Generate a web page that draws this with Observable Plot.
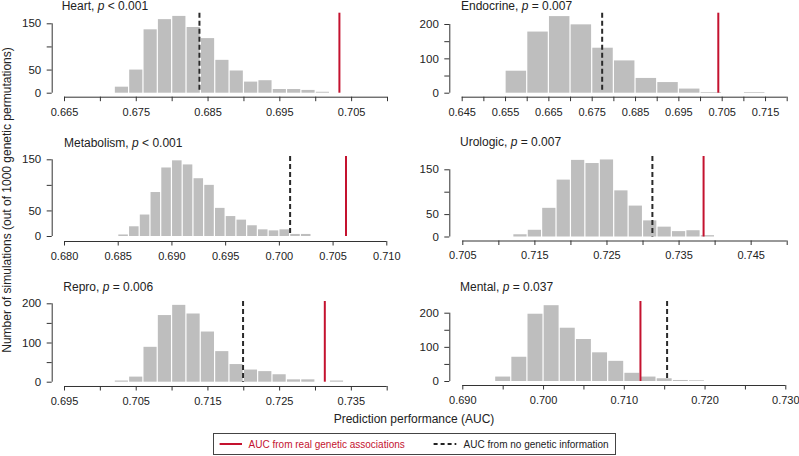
<!DOCTYPE html>
<html>
<head>
<meta charset="utf-8">
<script src="https://cdn.jsdelivr.net/npm/d3@7"></script>
<script src="https://cdn.jsdelivr.net/npm/@observablehq/plot@0.6"></script>
<style>
  body { margin: 0; background: #fff; }
  #chart { position: relative; width: 799px; height: 456px; overflow: hidden;
           font-family: "Liberation Sans", Arial, Helvetica, sans-serif; color: #222; background: #fff; }
  .panel { position: absolute; }
  .title { position: absolute; font-size: 12px; line-height: 12px; white-space: nowrap; color: #222; }
  .ytitle { position: absolute; font-size: 12px; line-height: 14px; width: 400px; text-align: center;
            transform: rotate(-90deg); white-space: nowrap; }
  .xtitle { position: absolute; font-size: 12px; line-height: 12px; width: 400px; text-align: center; white-space: nowrap; }
</style>
</head>
<body>
<div id="chart"></div>
<script>
// ---------------- data ----------------
const panelNames = ["Heart", "Endocrine", "Metabolism", "Urologic", "Repro", "Mental"];
const pSigns = ["<", "=", "<", "=", "=", "="];
const pValues = ["0.001", "0.007", "0.001", "0.007", "0.006", "0.037"];

const binStarts = [0.672, 0.655, 0.685, 0.712, 0.702, 0.694];
const binWidths = [0.002, 0.005, 0.001, 0.002, 0.002, 0.002];

const heartCounts      = [13, 50, 137, 159, 166, 142, 118, 71, 48, 24, 27, 8, 8, 6, 2];
const endocrineCounts  = [64, 178, 223, 199, 131, 94, 43, 31, 12, 2, 0, 2];
const metabolismCounts = [3, 19, 42, 86, 134, 148, 140, 113, 100, 55, 39, 32, 21, 13, 11, 13, 4, 4];
const urologicCounts   = [5, 15, 64, 127, 171, 164, 172, 103, 69, 36, 22, 12, 14, 3];
const reproCounts      = [3, 13, 89, 170, 196, 174, 128, 78, 45, 31, 27, 19, 6, 6, 0, 3];
const mentalCounts     = [13, 71, 197, 222, 156, 123, 84, 59, 24, 13, 8, 3, 2];
const allCounts = [heartCounts, endocrineCounts, metabolismCounts, urologicCounts, reproCounts, mentalCounts];

const realAUC       = [0.7033, 0.7041, 0.7062, 0.7384, 0.7313, 0.7120];
const noGeneticAUC  = [0.6838, 0.6773, 0.7010, 0.7313, 0.7199, 0.7153];

const xDomains = [[0.665, 0.710], [0.645, 0.720], [0.680, 0.710], [0.705, 0.750], [0.695, 0.740], [0.690, 0.730]];
const xTicks = [
  [0.665, 0.670, 0.675, 0.680, 0.685, 0.690, 0.695, 0.700, 0.705, 0.710],
  [0.645, 0.650, 0.655, 0.660, 0.665, 0.670, 0.675, 0.680, 0.685, 0.690, 0.695, 0.700, 0.705, 0.710, 0.715, 0.720],
  [0.680, 0.685, 0.690, 0.695, 0.700, 0.705, 0.710],
  [0.705, 0.710, 0.715, 0.720, 0.725, 0.730, 0.735, 0.740, 0.745, 0.750],
  [0.695, 0.700, 0.705, 0.710, 0.715, 0.720, 0.725, 0.730, 0.735, 0.740],
  [0.690, 0.695, 0.700, 0.705, 0.710, 0.715, 0.720, 0.725, 0.730]
];
const xTickLabels = [
  [0.665, 0.675, 0.685, 0.695, 0.705],
  [0.645, 0.655, 0.665, 0.675, 0.685, 0.695, 0.705, 0.715],
  [0.680, 0.685, 0.690, 0.695, 0.700, 0.705, 0.710],
  [0.705, 0.715, 0.725, 0.735, 0.745],
  [0.695, 0.705, 0.715, 0.725, 0.735],
  [0.690, 0.700, 0.710, 0.720, 0.730]
];
const yTicks = [
  [0, 50, 100, 150], [0, 50, 100, 150, 200], [0, 50, 100, 150],
  [0, 50, 100, 150], [0, 50, 100, 150, 200], [0, 50, 100, 150, 200]
];
const yTickLabels = [
  [0, 50, 150], [0, 100, 200], [0, 50, 150],
  [0, 50, 150], [0, 100, 200], [0, 100, 200]
];

const xAxisTitle = "Prediction performance (AUC)";
const yAxisTitle = "Number of simulations (out of 1000 genetic permutations)";
const legendLabels = ["AUC from real genetic associations", "AUC from no genetic information"];

// ---------------- layout / style ----------------
const RED = "#c4122f";
const DARK = "#333333";
const BAR = "#bebebe";
const layouts = [
  {left: 0,   top: 0,   h: 135, xr: [64, 387],     yb: 92.7,  yt: 23.3, ax: 96.7,  yx: 51.7, lt: 12.7, tx: 61.7, tb: 10.0},
  {left: 400, top: 0,   h: 135, xr: [61.7, 386.7], yb: 92.7,  yt: 24.0, ax: 96.7,  yx: 49.3, lt: 12.7, tx: 61,   tb: 10.0},
  {left: 0,   top: 135, h: 135, xr: [64, 386.3],   yb: 101.0, yt: 24.3, ax: 106.0, yx: 51.7, lt: 21.0, tx: 64,   tb: 12.3},
  {left: 400, top: 135, h: 135, xr: [62.3, 386.7], yb: 101.5, yt: 34.3, ax: 105.5, yx: 49.3, lt: 21.0, tx: 60,   tb: 11.0},
  {left: 0,   top: 270, h: 140, xr: [64, 386.7],   yb: 111.7, yt: 33.3, ax: 116.0, yx: 51.7, lt: 31.0, tx: 63.3, tb: 20.7},
  {left: 400, top: 270, h: 140, xr: [62.3, 385.3], yb: 111.0, yt: 42.7, ax: 115.0, yx: 49.3, lt: 31.0, tx: 60,   tb: 20.7}
];

const chart = document.getElementById("chart");
const near = (arr, v) => arr.some(a => Math.abs(a - v) < 1e-9);
const fmt3 = d3.format(".3f");

panelNames.forEach((name, i) => {
  const L = layouts[i];
  const counts = allCounts[i];
  const bins = counts.map((c, k) => ({
    x1: binStarts[i] + k * binWidths[i],
    x2: binStarts[i] + (k + 1) * binWidths[i],
    count: c
  }));
  const dom = xDomains[i];
  const yMax = yTicks[i][yTicks[i].length - 1];
  const gap = L.ax - L.yb;

  const svg = Plot.plot({
    width: 400,
    height: L.h,
    marginLeft: L.yx,
    marginRight: 400 - L.xr[1],
    marginTop: L.lt,
    marginBottom: L.h - L.ax,
    x: {domain: dom, range: L.xr},
    y: {domain: [0, yMax], range: [L.yb, L.yt]},
    style: {background: "transparent", fontSize: "11px", fontFamily: "'Liberation Sans', Arial, Helvetica, sans-serif", color: "#222", overflow: "visible"},
    marks: [
      Plot.rectY(bins, {x1: "x1", x2: "x2", y: "count", fill: BAR, insetLeft: 0.6, insetRight: 0.6}),
      Plot.ruleX([noGeneticAUC[i]], {stroke: "#2a2a2a", strokeWidth: 2, strokeDasharray: "5,3", insetBottom: gap}),
      Plot.ruleX([realAUC[i]], {stroke: RED, strokeWidth: 2, insetBottom: gap}),
      Plot.ruleY([{y: 0, x1: dom[0], x2: dom[1]}], {y: "y", x1: "x1", x2: "x2", dy: gap, stroke: DARK, strokeWidth: 1}),
      Plot.ruleX([{x: dom[0], y1: 0, y2: yMax}], {x: "x", y1: "y1", y2: "y2", dx: L.yx - L.xr[0], stroke: DARK, strokeWidth: 1}),
      Plot.axisX({ticks: xTicks[i], tickFormat: d => near(xTickLabels[i], d) ? fmt3(d) : "", tickSize: 4.5, tickPadding: 6, label: null, stroke: DARK, fontSize: 11}),
      Plot.axisY({ticks: yTicks[i], tickFormat: d => near(yTickLabels[i], d) ? String(d) : "", tickSize: 5, tickPadding: 6, label: null, stroke: DARK, fontSize: 11.5})
    ]
  });
  svg.classList.add("panel");
  svg.style.left = L.left + "px";
  svg.style.top = L.top + "px";
  chart.appendChild(svg);

  const t = document.createElement("div");
  t.className = "title";
  t.style.left = (L.left + L.tx) + "px";
  t.style.top = (L.top + L.tb - 10.2) + "px";
  t.innerHTML = `${name}, <i>p</i> ${pSigns[i] === "<" ? "&lt;" : "="} ${pValues[i]}`;
  chart.appendChild(t);
});

// y-axis title
const yt = document.createElement("div");
yt.className = "ytitle";
yt.style.left = (7 - 200) + "px";
yt.style.top = (200 - 7) + "px";
yt.textContent = yAxisTitle;
chart.appendChild(yt);

// x-axis title
const xt = document.createElement("div");
xt.className = "xtitle";
xt.style.left = (414 - 200) + "px";
xt.style.top = (423 - 10.2) + "px";
xt.textContent = xAxisTitle;
chart.appendChild(xt);

// legend
const lg = document.createElement("div");
lg.style.cssText = "position:absolute;left:212.7px;top:433.3px;width:403.3px;height:21.7px;box-sizing:border-box;border:1px solid #444;";
const ns = "http://www.w3.org/2000/svg";
const ls = document.createElementNS(ns, "svg");
ls.setAttribute("width", 402);
ls.setAttribute("height", 20);
ls.style.cssText = "position:absolute;left:0;top:0;overflow:visible";
function el(tag, attrs) { const e = document.createElementNS(ns, tag); for (const k in attrs) e.setAttribute(k, attrs[k]); ls.appendChild(e); return e; }
el("line", {x1: 5.6, x2: 28, y1: 10, y2: 10, stroke: RED, "stroke-width": 2});
const t1 = el("text", {x: 34.6, y: 13.6, fill: RED, "font-size": 10, "font-family": "'Liberation Sans', Arial, sans-serif"});
t1.textContent = legendLabels[0];
el("line", {x1: 219.6, x2: 242.3, y1: 10, y2: 10, stroke: "#222", "stroke-width": 2, "stroke-dasharray": "4,3"});
const t2 = el("text", {x: 249.6, y: 13.6, fill: "#222", "font-size": 10, "font-family": "'Liberation Sans', Arial, sans-serif"});
t2.textContent = legendLabels[1];
lg.appendChild(ls);
chart.appendChild(lg);
</script>
</body>
</html>
